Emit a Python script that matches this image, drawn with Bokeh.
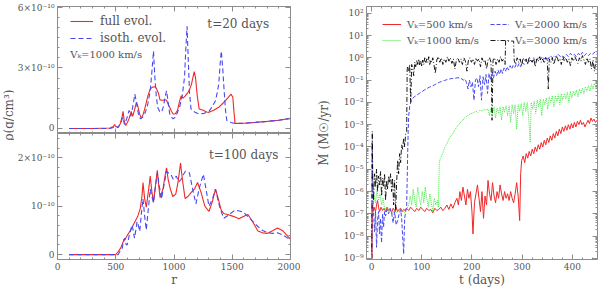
import numpy as np
from bokeh.plotting import figure
from bokeh.layouts import row, column
from bokeh.models import (LinearAxis, LogAxis, FixedTicker, SingleIntervalTicker,
                          CustomJSTickFormatter, Legend, LegendItem, Label, Range1d)
from bokeh.embed import file_html
from bokeh.resources import INLINE

# ---------------- data ----------------
# Left panels: radius r and density in units of 1e-10 g/cm^3
top_full = [(100, 0), (300, 0), (450, 0.02), (480, 0.1), (490, 0.2), (500, 0.1), (520, 0.05),
            (540, 0.25), (555, 0.6), (563, 0.85), (572, 0.4), (585, 0.15), (600, 0.3), (615, 0.5),
            (625, 0.7), (633, 0.85), (645, 0.6), (660, 0.9), (678, 1.3), (692, 1.05), (706, 0.7),
            (720, 0.5), (735, 0.7), (750, 1.0), (767, 1.4), (780, 1.7), (796, 1.95), (815, 2.05),
            (838, 2.07), (852, 1.95), (866, 1.75), (880, 1.42), (900, 1.4), (920, 1.42), (936, 1.4),
            (950, 1.2), (963, 1.05), (978, 0.85), (992, 0.72), (1010, 0.72), (1030, 0.9), (1048, 1.35),
            (1062, 1.62), (1078, 1.5), (1095, 1.6), (1115, 1.75), (1132, 1.9), (1150, 2.2), (1165, 2.6),
            (1174, 2.82), (1185, 2.5), (1200, 1.6), (1216, 0.97), (1250, 0.9), (1280, 0.82), (1300, 0.8),
            (1340, 0.9), (1384, 1.05), (1420, 1.25), (1460, 1.5), (1490, 1.7), (1505, 1.55), (1515, 0.8),
            (1524, 0.25), (1600, 0.26), (1700, 0.3), (1800, 0.35), (1900, 0.41), (2000, 0.5)]

top_isoth = [(100, 0), (300, 0), (450, 0), (480, 0.05), (500, 0.12), (520, 0.05), (545, 0.3),
             (560, 0.55), (575, 0.2), (595, 0.5), (615, 0.9), (630, 0.6), (650, 1.2), (664, 1.7),
             (680, 1.2), (695, 0.7), (711, 0.48), (730, 0.55), (754, 0.8), (775, 1.2), (796, 1.87),
             (810, 2.8), (824, 3.84), (835, 2.6), (848, 1.6), (860, 1.05), (876, 0.85), (893, 0.8),
             (910, 1.1), (925, 1.6), (936, 1.87), (948, 1.4), (963, 0.72), (980, 0.55), (992, 0.48),
             (1010, 0.55), (1030, 0.8), (1050, 1.1), (1070, 1.6), (1090, 2.52), (1102, 4.0), (1112, 5.07),
             (1122, 3.5), (1133, 1.8), (1146, 0.97), (1180, 0.8), (1216, 0.72), (1260, 0.75), (1300, 0.85),
             (1330, 1.1), (1356, 1.38), (1372, 1.8), (1384, 2.2), (1396, 3.2), (1406, 3.84), (1418, 3.0),
             (1430, 1.9), (1442, 0.9), (1454, 0.39), (1490, 0.3), (1524, 0.24), (1600, 0.26), (1700, 0.3),
             (1800, 0.35), (1900, 0.41), (2000, 0.5)]

bot_full = [(100, 0), (300, 0), (500, 0), (520, 0.06), (543, 0.14), (565, 0.27), (585, 0.34),
            (605, 0.42), (627, 0.5), (648, 0.6), (669, 0.7), (690, 0.8), (710, 0.95), (725, 1.2),
            (734, 1.49), (748, 1.15), (762, 0.98), (780, 1.3), (796, 1.62), (810, 1.3), (824, 1.08),
            (840, 1.4), (857, 1.74), (868, 1.45), (880, 1.18), (905, 1.35), (925, 1.65), (936, 1.79),
            (950, 1.55), (969, 1.35), (990, 1.2), (1015, 1.25), (1035, 1.5), (1056, 1.89), (1072, 1.55),
            (1095, 1.16), (1120, 1.2), (1146, 1.28), (1175, 1.35), (1202, 1.49), (1230, 1.3), (1265, 1.0),
            (1300, 0.89), (1330, 1.1), (1356, 1.35), (1380, 1.15), (1405, 0.92), (1426, 0.85), (1460, 0.83),
            (1496, 0.8), (1530, 0.77), (1557, 0.74), (1600, 0.79), (1635, 0.83), (1675, 0.68), (1720, 0.49),
            (1760, 0.45), (1804, 0.44), (1850, 0.5), (1888, 0.55), (1930, 0.5), (1970, 0.4), (2000, 0.32)]

bot_isoth = [(100, 0), (520, 0), (529, 0.04), (545, 0.1), (557, 0.14), (567, 0.3), (577, 0.34),
             (590, 0.2), (600, 0.21), (620, 0.45), (641, 0.61), (661, 0.34), (672, 0.5), (683, 0.68),
             (695, 0.6), (706, 0.48), (720, 0.85), (734, 1.15), (748, 0.8), (762, 0.51), (780, 0.95),
             (796, 1.35), (810, 1.2), (824, 1.08), (840, 1.4), (857, 1.69), (875, 1.4), (893, 1.15),
             (915, 1.45), (936, 1.72), (955, 1.68), (972, 1.66), (995, 1.55), (1020, 1.62), (1040, 1.5),
             (1060, 1.55), (1080, 1.65), (1098, 1.72), (1132, 1.69), (1160, 1.35), (1188, 1.05), (1220, 1.4),
             (1252, 1.66), (1275, 1.35), (1300, 1.0), (1330, 1.15), (1356, 1.35), (1390, 1.0), (1426, 0.75),
             (1470, 0.82), (1524, 0.92), (1560, 0.9), (1594, 0.88), (1650, 0.75), (1720, 0.58), (1760, 0.5),
             (1804, 0.45), (1850, 0.44), (1888, 0.45), (1940, 0.4), (1994, 0.31)]

# Right panel: t (days) and log10 of accretion rate (Msun/yr)
mdot_500 = [(0.5, -9.0), (1, -9.0), (1.5, -6.6), (3, -6.9), (5, -6.7), (8, -6.9), (10, -6.6), (12, -6.4),
            (14, -6.7), (16, -6.9), (19, -6.7), (22, -6.85), (25, -6.75), (28, -6.9), (31, -6.7), (34, -6.85),
            (37, -6.8), (40, -6.95), (43, -6.75), (46, -6.85), (49, -6.7), (52, -6.9), (55, -6.8), (58, -6.75),
            (61, -6.9), (64, -6.8), (67, -6.85), (70, -6.75), (74, -6.85), (78, -6.7), (82, -6.8), (86, -6.9),
            (90, -6.75), (94, -6.85), (98, -6.7), (102, -6.8), (106, -6.9), (110, -6.75), (114, -6.85),
            (118, -6.8), (122, -6.95), (126, -6.75), (130, -6.85), (134, -6.8), (138, -6.7), (142, -6.85),
            (146, -6.75), (150, -6.6), (154, -6.8), (158, -6.55), (162, -6.75), (166, -6.5), (170, -6.3),
            (173, -6.6), (176, -6.0), (179, -6.4), (182, -5.8), (185, -6.2), (188, -6.6), (191, -5.9),
            (194, -6.3), (197, -6.0), (200, -6.9), (202, -7.9), (205, -6.5), (208, -6.1), (211, -5.7),
            (214, -6.3), (217, -6.9), (220, -6.0), (223, -7.2), (226, -6.2), (229, -6.6), (232, -5.5),
            (235, -6.1), (238, -6.4), (241, -5.6), (244, -6.2), (247, -6.5), (250, -6.0), (253, -6.3),
            (256, -5.7), (259, -6.1), (262, -6.4), (265, -6.0), (268, -6.3), (271, -6.1), (274, -6.4),
            (277, -6.0), (280, -6.3), (283, -6.5), (286, -6.1), (289, -5.6), (292, -6.2), (295, -7.3),
            (297, -5.2), (299, -4.6), (302, -4.4), (305, -4.7), (308, -4.3), (311, -4.5), (314, -4.2),
            (317, -4.4), (320, -4.1), (323, -4.3), (326, -4.0), (329, -4.2), (332, -3.9), (335, -4.1),
            (338, -3.8), (341, -4.0), (344, -3.7), (347, -3.9), (350, -3.6), (353, -3.8), (356, -3.5),
            (359, -3.7), (362, -3.4), (365, -3.6), (368, -3.3), (371, -3.5), (374, -3.2), (377, -3.4),
            (380, -3.1), (383, -3.3), (386, -3.05), (389, -3.25), (392, -3.0), (395, -3.2), (398, -2.95),
            (401, -3.15), (404, -2.9), (407, -3.1), (410, -2.85), (413, -3.0), (416, -2.8), (419, -3.0),
            (422, -2.9), (425, -3.1), (428, -2.95), (431, -2.8), (434, -2.95), (437, -2.7), (440, -2.85),
            (443, -2.75), (446, -2.9), (449, -2.8)]

mdot_1000 = [(2, -7.0), (5, -6.2), (8, -6.5), (11, -5.9), (14, -6.4), (17, -6.1), (20, -6.6), (23, -6.3),
             (26, -6.8), (30, -6.7), (34, -6.9), (38, -6.8), (42, -7.0), (46, -6.85), (50, -6.95), (54, -6.8),
             (58, -6.9), (62, -6.85), (66, -6.95), (70, -6.8), (74, -6.6), (77, -6.2), (80, -6.6), (83, -5.9),
             (86, -6.4), (89, -6.7), (92, -5.8), (95, -6.3), (98, -6.6), (101, -6.0), (104, -6.5), (107, -5.8),
             (110, -6.3), (113, -6.7), (116, -6.1), (119, -6.5), (122, -6.9), (125, -6.3), (128, -6.6),
             (131, -6.4), (133, -6.7), (135, -4.7), (137, -4.5), (140, -4.4), (143, -4.2), (146, -4.0),
             (149, -3.9), (152, -3.75), (155, -3.6), (158, -3.5), (161, -3.45), (164, -3.3), (167, -3.2),
             (170, -3.1), (173, -3.0), (176, -2.95), (179, -2.85), (182, -2.8), (185, -2.7), (188, -2.65),
             (191, -2.6), (194, -2.55), (197, -2.5), (200, -2.5), (204, -2.45), (208, -2.4), (212, -2.45),
             (216, -2.35), (220, -2.4), (224, -2.3), (228, -2.35), (232, -2.3), (235, -2.6), (238, -2.25),
             (241, -2.5), (244, -2.2), (247, -2.7), (250, -2.25), (253, -2.5), (256, -2.2), (259, -2.8),
             (262, -2.2), (265, -2.45), (268, -2.15), (271, -2.6), (274, -2.15), (277, -2.9), (280, -2.1),
             (283, -2.5), (286, -2.1), (289, -3.2), (292, -2.1), (295, -2.4), (298, -2.05), (301, -2.6),
             (304, -2.0), (307, -2.4), (310, -2.0), (313, -2.7), (316, -3.8), (318, -2.0), (321, -2.3),
             (324, -1.95), (327, -2.5), (330, -1.9), (333, -2.2), (336, -1.85), (339, -2.6), (342, -1.85),
             (345, -2.1), (348, -1.8), (351, -2.3), (354, -1.75), (357, -2.0), (360, -1.7), (363, -2.2),
             (366, -1.7), (369, -1.95), (372, -1.65), (375, -2.1), (378, -1.6), (381, -1.9), (384, -1.6),
             (387, -1.85), (390, -1.55), (393, -2.0), (396, -1.5), (399, -1.8), (402, -1.5), (405, -1.7),
             (408, -1.45), (411, -1.75), (414, -1.4), (417, -1.6), (420, -1.35), (423, -1.6), (426, -1.3),
             (429, -1.5), (432, -1.25), (435, -1.5), (438, -1.2), (441, -1.4), (444, -1.15), (447, -1.35),
             (450, -1.1)]

mdot_2000 = [(0.5, -9.0), (1.2, -3.8), (2, -5.0), (3, -6.7), (4, -6.9), (6, -7.8), (8, -6.9), (10, -8.5),
             (12, -7.3), (14, -6.9), (16, -7.9), (18, -7.2), (20, -8.3), (22, -7.0), (24, -7.6), (26, -6.9),
             (28, -7.1), (31, -6.8), (34, -7.0), (37, -6.75), (40, -6.95), (43, -7.4), (46, -6.9), (49, -7.5),
             (52, -7.3), (55, -7.0), (58, -6.8), (60, -7.2), (62, -8.0), (64, -8.8), (66, -7.2), (68, -6.9),
             (70, -6.6), (71, -5.5), (72, -4.3), (73, -3.3), (74, -2.6), (76, -2.2), (78, -2.0), (81, -1.85),
             (85, -1.75), (90, -1.68), (95, -1.6), (100, -1.52), (105, -1.45), (110, -1.38), (115, -1.32),
             (120, -1.28), (125, -1.22), (130, -1.15), (135, -1.1), (140, -1.05), (145, -1.02), (150, -0.98),
             (155, -0.95), (160, -0.93), (165, -0.92), (170, -0.9), (175, -0.9), (180, -0.95), (183, -1.0),
             (186, -0.95), (189, -1.1), (192, -1.4), (195, -1.0), (198, -1.3), (201, -1.1), (204, -1.9),
             (207, -1.0), (210, -0.9), (213, -1.3), (216, -0.8), (219, -1.9), (222, -0.85), (225, -1.2),
             (228, -0.75), (231, -1.6), (234, -0.7), (237, -1.0), (240, -0.65), (243, -0.9), (246, -0.6),
             (249, -0.8), (252, -0.55), (255, -0.75), (258, -0.5), (261, -0.7), (264, -0.45), (267, -0.6),
             (270, -0.4), (273, -0.55), (276, -0.35), (279, -0.5), (282, -0.35), (285, -0.45), (288, -0.3),
             (291, -0.4), (294, -0.25), (297, -0.4), (300, -0.2), (304, -0.3), (308, -0.15), (312, -0.25),
             (316, -0.1), (320, -0.2), (324, -0.05), (328, -0.15), (332, 0.0), (336, -0.1), (340, 0.05),
             (344, -0.05), (348, 0.05), (352, -0.05), (356, 0.1), (360, 0.0), (364, 0.1), (368, 0.0),
             (372, 0.15), (376, 0.05), (380, 0.1), (384, 0.0), (388, 0.15), (392, 0.05), (396, 0.2),
             (400, 0.1), (404, 0.15), (408, 0.05), (412, 0.2), (416, 0.1), (420, 0.25), (424, 0.1),
             (428, 0.2), (432, 0.1), (436, 0.2), (440, 0.15), (444, 0.25), (448, 0.15), (450, 0.2)]

mdot_3000 = [(0.5, -9.0), (1.5, -3.3), (2.5, -5.5), (4, -6.4), (6, -5.2), (8, -5.8), (10, -5.0), (12, -6.0),
             (14, -5.3), (16, -5.7), (18, -5.1), (20, -6.2), (22, -5.4), (24, -5.8), (26, -5.2), (28, -6.4),
             (30, -5.5), (32, -5.9), (34, -5.3), (36, -5.6), (38, -5.2), (40, -6.0), (42, -5.4), (44, -6.6),
             (46, -5.5), (48, -6.9), (50, -5.6), (52, -4.6), (54, -5.2), (56, -4.3), (58, -4.7), (60, -3.9),
             (62, -4.1), (64, -3.6), (66, -4.0), (68, -3.4), (70, -3.3), (71, -0.5), (72, -0.4), (74, -0.6),
             (76, -0.3), (78, -2.0), (80, -0.3), (82, -0.5), (84, -0.8), (86, -0.2), (88, -0.4), (90, -0.1),
             (92, -0.3), (94, -0.05), (96, -0.35), (98, -0.15), (100, -0.4), (102, -0.1), (104, -0.3),
             (106, 0.0), (108, -0.25), (110, -0.05), (112, -0.2), (114, 0.05), (116, -0.3), (118, -0.1),
             (120, -0.2), (122, 0.0), (124, -0.25), (127, -0.7), (130, -0.1), (133, 0.05), (136, -0.2),
             (139, 0.0), (142, -0.3), (145, -0.05), (148, -0.2), (151, 0.05), (154, -0.15), (157, 0.0),
             (160, -0.25), (163, -0.05), (166, -0.5), (169, -0.1), (172, 0.0), (175, -0.2), (178, -0.05),
             (181, -0.3), (184, 0.0), (187, -0.15), (190, -0.6), (193, -0.1), (196, 0.0), (199, -0.2),
             (202, -0.05), (205, -0.3), (208, 0.0), (211, -0.15), (214, -0.05), (217, -0.4), (220, 0.0),
             (223, -0.2), (226, -0.1), (229, -0.5), (232, -0.1), (235, 0.0), (238, -0.2), (240, -2.8),
             (242, -0.1), (245, 0.0), (248, -0.3), (251, -0.05), (254, -0.2), (257, 0.05), (260, -0.15),
             (263, -0.05), (266, -0.3), (267, 0.75), (272, 0.75), (278, 0.75), (283, 0.75), (284, -0.1),
             (287, -0.3), (290, 0.0), (293, -0.2), (296, -0.05), (299, -0.35), (302, 0.0), (305, -0.15),
             (308, -0.05), (311, -0.3), (314, 0.05), (317, -0.1), (320, -0.2), (323, 0.0), (326, -0.4),
             (329, -0.05), (332, -0.15), (335, 0.05), (338, -0.2), (341, -0.05), (344, -0.25), (347, 0.0),
             (350, -0.1), (352, -1.4), (354, -0.05), (357, -0.2), (360, 0.0), (363, -0.3), (366, -0.05),
             (369, 0.1), (372, -0.15), (375, -0.05), (378, -0.3), (381, 0.05), (384, -0.15), (387, 0.0),
             (390, -0.2), (393, -0.05), (396, -0.35), (399, 0.0), (402, -0.15), (405, 0.05), (408, -0.1),
             (411, -0.25), (414, 0.0), (417, -0.15), (420, 0.1), (423, -0.1), (426, -0.3), (429, 0.0),
             (432, -0.2), (435, -0.05), (438, -0.5), (441, -0.1), (444, -0.6), (447, -0.1), (450, -0.2)]

legend_left = ["full evol.", "isoth. evol."]
legend_right = ["Vₖ=500 km/s", "Vₖ=1000 km/s", "Vₖ=2000 km/s", "Vₖ=3000 km/s"]


def xs(pairs):
    return [p[0] for p in pairs]


def ys(pairs):
    return [p[1] for p in pairs]


def mdot(pairs):
    return list(np.power(10.0, ys(pairs)))


# ---------------- styling ----------------
FONT = "DejaVu Serif"
TXT = "#555555"
AXC = "#8c8c8c"
RED = "#f02828"
BLUE = "#4848f0"
GREEN = "#3ee83e"
BLACK = "#000000"


def base_fig(width, height, xr, yr, l, r, t, b, y_type="linear"):
    p = figure(width=width, height=height, x_range=xr, y_range=yr, y_axis_type=y_type,
               x_axis_location=None, y_axis_location=None, toolbar_location=None,
               output_backend="svg", min_border_left=l, min_border_right=r,
               min_border_top=t, min_border_bottom=b)
    p.outline_line_color = AXC
    p.outline_line_width = 1
    p.background_fill_color = "white"
    p.border_fill_color = "white"
    p.grid.visible = False
    return p


def add_axis(p, side, ticker, formatter=None, labels=True, label=None, log=False, label_standoff=0):
    ax = LogAxis(ticker=ticker) if log else LinearAxis(ticker=ticker)
    if formatter is not None:
        ax.formatter = formatter
    ax.axis_line_color = None
    ax.major_tick_line_color = AXC
    ax.minor_tick_line_color = AXC
    ax.major_tick_in = 5
    ax.major_tick_out = 0
    ax.minor_tick_in = 2
    ax.minor_tick_out = 0
    if labels:
        ax.major_label_text_font = FONT
        ax.major_label_text_font_size = "9px"
        ax.major_label_text_color = TXT
        ax.major_label_standoff = 3
    else:
        ax.major_label_text_font_size = "1px"
        ax.major_label_text_color = None
        ax.major_label_text_alpha = 0
        ax.major_label_standoff = 0
    if label:
        ax.axis_label = label
        ax.axis_label_text_font = FONT
        ax.axis_label_text_font_size = "12px"
        ax.axis_label_text_font_style = "normal"
        ax.axis_label_text_color = TXT
        ax.axis_label_standoff = label_standoff
    p.add_layout(ax, side)
    return ax


top_fmt = CustomJSTickFormatter(code="return Math.round(tick) == 0 ? '0' : Math.round(tick) + '×10⁻¹⁰';")
bot_fmt = CustomJSTickFormatter(code="""
const n = Math.round(tick);
if (n == 0) { return '0'; }
if (n == 1) { return '10⁻¹⁰'; }
return n + '×10⁻¹⁰';
""")
log_fmt = CustomJSTickFormatter(code="""
const s = {'-':'⁻','0':'⁰','1':'¹','2':'²','3':'³','4':'⁴','5':'⁵','6':'⁶','7':'⁷','8':'⁸','9':'⁹'};
const e = Math.round(Math.log10(tick));
return '10' + String(e).split('').map(c => s[c]).join('');
""")

H = 289

# ---------------- label strip ----------------
p_lab = figure(width=14, height=H, x_range=Range1d(0, 14), y_range=Range1d(0, H),
               x_axis_location=None, y_axis_location=None, toolbar_location=None,
               output_backend="svg", min_border=0)
p_lab.outline_line_color = None
p_lab.grid.visible = False
p_lab.add_layout(Label(x=8, y=165, text="ρ(g/cm³)", angle=np.pi / 2, text_align="center",
                       text_baseline="middle", text_font=FONT, text_font_size="12px", text_color=TXT))

# ---------------- left top ----------------
LW = 286
p_top = base_fig(LW, 133, Range1d(0, 2000), Range1d(-0.25, 6.05), 36, 10, 6, 0)
add_axis(p_top, "left", SingleIntervalTicker(interval=3, num_minor_ticks=6), top_fmt)
add_axis(p_top, "right", SingleIntervalTicker(interval=3, num_minor_ticks=6), labels=False)
add_axis(p_top, "above", SingleIntervalTicker(interval=500, num_minor_ticks=5), labels=False)
add_axis(p_top, "below", SingleIntervalTicker(interval=500, num_minor_ticks=5), labels=False)
rt1 = p_top.line(xs(top_full), ys(top_full), line_color=RED, line_width=1.1)
rt2 = p_top.line(xs(top_isoth), ys(top_isoth), line_color=BLUE, line_width=1.1, line_dash="5 3")
leg1 = Legend(items=[LegendItem(label=legend_left[0], renderers=[rt1]),
                     LegendItem(label=legend_left[1], renderers=[rt2])],
              location=(11, 86), glyph_width=23, glyph_height=12, label_height=12,
              label_standoff=7, spacing=3, padding=2, margin=0,
              border_line_alpha=0, background_fill_alpha=0,
              label_text_font=FONT, label_text_font_size="12px", label_text_color=TXT)
p_top.add_layout(leg1)
p_top.add_layout(Label(x=109, y=3.69, text="Vₖ=1000 km/s", text_align="left", text_baseline="middle",
                       text_font=FONT, text_font_size="10px", text_color=TXT))
p_top.add_layout(Label(x=1286, y=5.16, text="t=20 days", text_align="left", text_baseline="middle",
                       text_font=FONT, text_font_size="12px", text_color=TXT))

# ---------------- left bottom ----------------
p_bot = base_fig(LW, H - 133, p_top.x_range, Range1d(-0.1, 2.5), 36, 10, 0, 27)
add_axis(p_bot, "left", SingleIntervalTicker(interval=1, num_minor_ticks=5), bot_fmt)
add_axis(p_bot, "right", SingleIntervalTicker(interval=1, num_minor_ticks=5), labels=False)
add_axis(p_bot, "above", SingleIntervalTicker(interval=500, num_minor_ticks=5), labels=False)
add_axis(p_bot, "below", SingleIntervalTicker(interval=500, num_minor_ticks=5), label="r")
p_bot.line(xs(bot_full), ys(bot_full), line_color=RED, line_width=1.1)
p_bot.line(xs(bot_isoth), ys(bot_isoth), line_color=BLUE, line_width=1.1, line_dash="5 3")
p_bot.add_layout(Label(x=1300, y=2.06, text="t=100 days", text_align="left", text_baseline="middle",
                       text_font=FONT, text_font_size="12px", text_color=TXT))

# ---------------- right ----------------
decades = [10.0 ** e for e in range(-9, 3)]
minors = [m * 10.0 ** e for e in range(-9, 3) for m in range(2, 10)]
p_r = base_fig(300, H, Range1d(-10, 450), Range1d(9e-10, 2e2), 66, 3, 6, 27, y_type="log")
add_axis(p_r, "left", FixedTicker(ticks=decades, minor_ticks=minors), log_fmt, log=True,
         label="Ṁ (M☉/yr)", label_standoff=10)
add_axis(p_r, "right", FixedTicker(ticks=decades, minor_ticks=minors), labels=False, log=True)
add_axis(p_r, "above", SingleIntervalTicker(interval=100, num_minor_ticks=5), labels=False)
add_axis(p_r, "below", SingleIntervalTicker(interval=100, num_minor_ticks=5), label="t (days)")

r500 = p_r.line(xs(mdot_500), mdot(mdot_500), line_color=RED, line_width=1.0)
r1000 = p_r.line(xs(mdot_1000), mdot(mdot_1000), line_color=GREEN, line_width=1.0, line_dash="1 1")
r2000 = p_r.line(xs(mdot_2000), mdot(mdot_2000), line_color=BLUE, line_width=1.0, line_dash="4 2")
r3000 = p_r.line(xs(mdot_3000), mdot(mdot_3000), line_color=BLACK, line_width=0.9, line_dash="5 2 1 2")

leg_kw = dict(glyph_width=19, glyph_height=12, label_height=12, label_standoff=6, spacing=4,
              padding=2, margin=0, border_line_alpha=0, background_fill_alpha=0,
              label_text_font=FONT, label_text_font_size="10px", label_text_color=TXT)
leg_a = Legend(items=[LegendItem(label=legend_right[0], renderers=[r500]),
                      LegendItem(label=legend_right[1], renderers=[r1000])],
               location=(14, 211), **leg_kw)
leg_b = Legend(items=[LegendItem(label=legend_right[2], renderers=[r2000]),
                      LegendItem(label=legend_right[3], renderers=[r3000])],
               location=(122, 211), **leg_kw)
p_r.add_layout(leg_a)
p_r.add_layout(leg_b)

layout = row(p_lab, column(p_top, p_bot, spacing=0), p_r, spacing=0)

with open("out.html", "w", encoding="utf-8") as f:
    f.write(file_html(layout, INLINE, title="plot"))
